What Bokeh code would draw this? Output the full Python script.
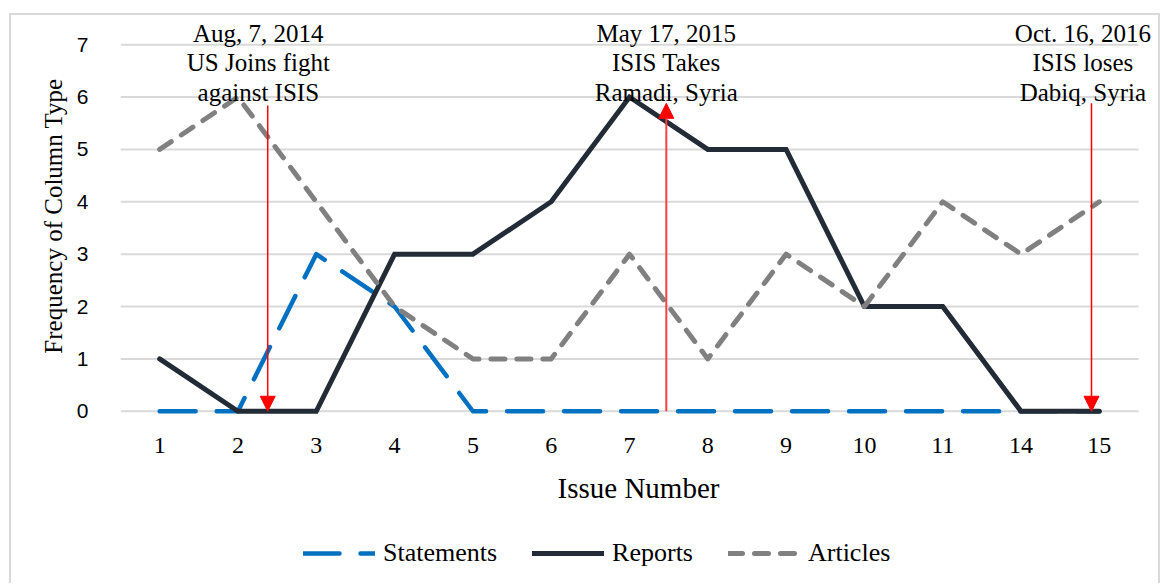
from bokeh.plotting import figure
from bokeh.layouts import column
from bokeh.models import FixedTicker, Label, Arrow, NormalHead, Legend, LegendItem, Range1d
from bokeh.embed import file_html
from bokeh.resources import INLINE

# ---- data ----
issues = ["1", "2", "3", "4", "5", "6", "7", "8", "9", "10", "11", "14", "15"]
statements = [0, 0, 3, 2, 0, 0, 0, 0, 0, 0, 0, 0, 0]
reports = [1, 0, 0, 3, 3, 4, 6, 5, 5, 2, 2, 0, 0]
articles = [5, 6, 4, 2, 1, 1, 3, 1, 3, 2, 4, 3, 4]
y_ticks = [0, 1, 2, 3, 4, 5, 6, 7]
series_names = ["Statements", "Reports", "Articles"]

event_lines = [
    ["Aug, 7, 2014", "US Joins fight", "against ISIS"],
    ["May 17, 2015", "ISIS Takes", "Ramadi, Syria"],
    ["Oct. 16, 2016", "ISIS loses", "Dabiq, Syria"],
]
event_text_x = [1.26, 6.47, 11.79]      # position along issue axis (index units)
event_arrow_x = [1.38, 6.47, 11.90]
event_arrow_top = [5.84, 5.88, 5.88]
event_arrow_down = [True, False, True]
text_line_y = [7.21, 6.65, 6.08]

xs = list(range(len(issues)))
n = len(issues)
series = [statements, reports, articles]

SERIF = "Liberation Serif"
STYLES = [
    dict(line_color="#0070C0", line_width=4.5, line_dash="36 21", line_cap="round", line_join="round"),
    dict(line_color="#232B36", line_width=5, line_cap="round", line_join="miter"),
    dict(line_color="#808080", line_width=5, line_dash="14 12", line_cap="round", line_join="round"),
]

p = figure(
    frame_width=1036, frame_height=401,
    min_border_left=109, min_border_right=2, min_border_top=0, min_border_bottom=105,
    x_range=Range1d(-0.5, 12.73),
    y_range=Range1d(-0.1, 7.557),
    output_backend="svg", toolbar_location=None,
)
p.outline_line_color = None
p.background_fill_color = "white"

# axes
p.xaxis.ticker = FixedTicker(ticks=xs)
p.xaxis.major_label_overrides = {i: s for i, s in enumerate(issues)}
p.yaxis.ticker = FixedTicker(ticks=y_ticks)
for ax in (p.xaxis, p.yaxis):
    ax.axis_line_color = None
    ax.major_tick_line_color = None
    ax.minor_tick_line_color = None
p.xaxis.major_label_text_font = SERIF
p.xaxis.major_label_text_font_size = "24px"
p.xaxis.major_label_text_color = "black"
p.xaxis.major_label_standoff = 15
p.xaxis.axis_label = "Issue Number"
p.xaxis.axis_label_text_font = SERIF
p.xaxis.axis_label_text_font_size = "29px"
p.xaxis.axis_label_text_font_style = "normal"
p.xaxis.axis_label_text_color = "black"
p.xaxis.axis_label_standoff = 16

p.yaxis.major_label_text_font = "Liberation Sans"
p.yaxis.major_label_text_font_size = "21px"
p.yaxis.major_label_text_color = "black"
p.yaxis.major_label_standoff = 26
p.yaxis.axis_label = "Frequency of Column Type"
p.yaxis.axis_label_text_font = SERIF
p.yaxis.axis_label_text_font_size = "25px"
p.yaxis.axis_label_text_font_style = "normal"
p.yaxis.axis_label_text_color = "black"
p.yaxis.axis_label_standoff = 7

p.xgrid.grid_line_color = None
p.ygrid.grid_line_color = None
# horizontal gridlines limited to the category area
p.segment(x0=[-0.5] * len(y_ticks), x1=[n - 0.5] * len(y_ticks), y0=y_ticks, y1=y_ticks,
          line_color="#D9D9D9", line_width=2)

# series
for vals, st in zip(series, STYLES):
    p.line(xs, vals, **st)

# events
for lines, tx, ax_, top, down in zip(event_lines, event_text_x, event_arrow_x,
                                     event_arrow_top, event_arrow_down):
    for t, ty in zip(lines, text_line_y):
        p.add_layout(Label(x=tx, y=ty, text=t, text_align="center", text_baseline="alphabetic",
                           text_font=SERIF, text_font_size="25px", text_color="black"))
    head = NormalHead(size=15, fill_color="#FF0000", line_color="#FF0000", line_width=1)
    if down:
        arr = Arrow(end=head, x_start=ax_, y_start=top, x_end=ax_, y_end=0,
                    line_color="#FF0000", line_width=1.5)
    else:
        arr = Arrow(end=head, x_start=ax_, y_start=0, x_end=ax_, y_end=top,
                    line_color="#FF4040", line_width=2)
    p.add_layout(arr)

# ---- legend strip below the chart (series drawn out of view, only legend visible) ----
lg = figure(frame_width=1147, frame_height=62, min_border=0,
            x_range=Range1d(100, 101), y_range=Range1d(100, 101),
            output_backend="svg", toolbar_location=None)
lg.axis.visible = False
lg.grid.grid_line_color = None
lg.outline_line_color = None
items = []
for name, vals, st in zip(series_names, series, STYLES):
    r = lg.line(xs, vals, **st)
    items.append(LegendItem(label=name, renderers=[r]))
legend = Legend(items=items, location=(292, 15), orientation="horizontal",
                glyph_width=72, glyph_height=20, label_standoff=8, spacing=35,
                padding=0, margin=0, border_line_color=None, background_fill_alpha=0,
                label_text_font=SERIF, label_text_font_size="26px", label_text_color="black")
lg.add_layout(legend, "center")

layout = column(p, lg, spacing=0,
                styles={"border-top": "2px solid #D9D9D9", "border-left": "2px solid #D9D9D9",
                        "border-right": "2px solid #D9D9D9",
                        "margin-left": "9px", "margin-top": "13px"})

open("out.html", "w").write(file_html(layout, INLINE))
